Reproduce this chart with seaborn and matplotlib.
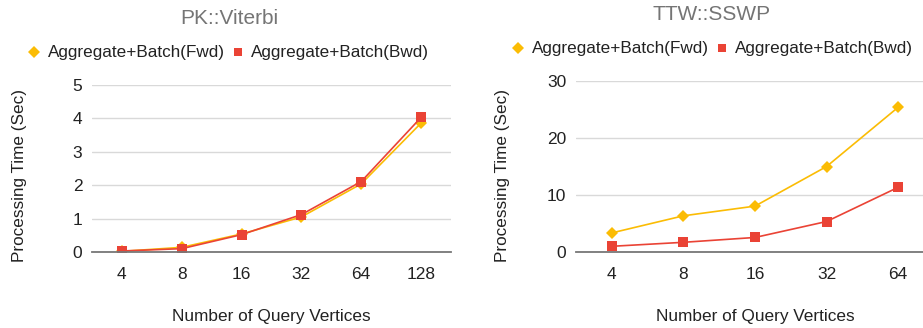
import matplotlib
matplotlib.use("Agg")
import matplotlib.pyplot as plt
from matplotlib.lines import Line2D
import seaborn as sns
import pandas as pd

# Viterbi on PK
pk_vertices = ["4", "8", "16", "32", "64", "128"]
pk_fwd = [0.02, 0.14, 0.54, 1.05, 2.04, 3.86]
pk_bwd = [0.03, 0.10, 0.52, 1.12, 2.11, 4.03]

# SSWP on TTW
ttw_vertices = ["4", "8", "16", "32", "64"]
ttw_fwd = [3.35, 6.35, 8.05, 15.0, 25.4]
ttw_bwd = [1.0, 1.7, 2.55, 5.35, 11.35]

series_names = ["Aggregate+Batch(Fwd)", "Aggregate+Batch(Bwd)"]
colors = {"Aggregate+Batch(Fwd)": "#FBBC04", "Aggregate+Batch(Bwd)": "#EA4335"}
markers = {"Aggregate+Batch(Fwd)": "D", "Aggregate+Batch(Bwd)": "s"}

sns.set_theme(style="white")
plt.rcParams["font.family"] = ["Liberation Sans", "DejaVu Sans"]

W, H = 923, 328
fig = plt.figure(figsize=(W / 100, H / 100), dpi=100)


def to_frame(cats, fwd, bwd):
    return pd.DataFrame({
        "vertices": cats * 2,
        "time": fwd + bwd,
        "series": [series_names[0]] * len(cats) + [series_names[1]] * len(cats),
    })


def panel(rect, cats, fwd, bwd, ymax, ystep, title, title_xy, legend_xy,
          ylabel_x, xlabel_x):
    x0, y0, x1, y1 = rect
    ax = fig.add_axes([x0 / W, 1 - y1 / H, (x1 - x0) / W, (y1 - y0) / H])
    df = to_frame(cats, fwd, bwd)
    sns.lineplot(data=df, x="vertices", y="time", hue="series", style="series",
                 palette=colors, markers=markers, dashes=False, sort=False,
                 linewidth=1.2, markersize=6.5, markeredgewidth=0,
                 legend=False, ax=ax)
    ax.set_xlim(-0.5, len(cats) - 0.5)
    ax.set_ylim(0, ymax)
    ax.set_yticks(range(0, ymax + 1, ystep))
    ax.grid(axis="y", color="#d9d9d9", linewidth=1.0)
    ax.grid(axis="x", visible=False)
    for s in ["top", "right", "left"]:
        ax.spines[s].set_visible(False)
    ax.spines["bottom"].set_color("#777777")
    ax.spines["bottom"].set_linewidth(1.3)
    ax.tick_params(axis="both", length=0, labelsize=12.5, colors="#222222")
    ax.tick_params(axis="x", pad=11)
    ax.tick_params(axis="y", pad=7)
    ax.set_xlabel("")
    ax.set_ylabel("")
    ax.set_axisbelow(True)

    fig.text(title_xy[0] / W, 1 - title_xy[1] / H, title, ha="center",
             va="center", fontsize=15, color="#757575")
    fig.text(ylabel_x / W, 1 - 176 / H, "Processing Time (Sec)", rotation=90,
             ha="center", va="center", fontsize=12.3, color="#222222")
    fig.text(xlabel_x / W, 1 - 316 / H, "Number of Query Vertices",
             ha="center", va="center", fontsize=12.4, color="#222222")

    handles = [Line2D([], [], linestyle="none", marker=markers[n],
                      color=colors[n], markersize=6, markeredgewidth=0)
               for n in series_names]
    fig.legend(handles, series_names, loc="center left",
               bbox_to_anchor=(legend_xy[0] / W, 1 - legend_xy[1] / H),
               ncol=2, frameon=False, fontsize=12.3, handlelength=0.6,
               handletextpad=0.5, columnspacing=0.45, borderpad=0,
               borderaxespad=0, labelcolor="#222222")
    return ax


panel((92, 85, 451, 252), pk_vertices, pk_fwd, pk_bwd, 5, 1,
      "PK::Viterbi", (229, 19), (29, 53), 20, 271)
panel((576, 81, 934, 252), ttw_vertices, ttw_fwd, ttw_bwd, 30, 10,
      "TTW::SSWP", (712, 15), (513, 49), 503, 755)

fig.savefig("out.png", dpi=100)
